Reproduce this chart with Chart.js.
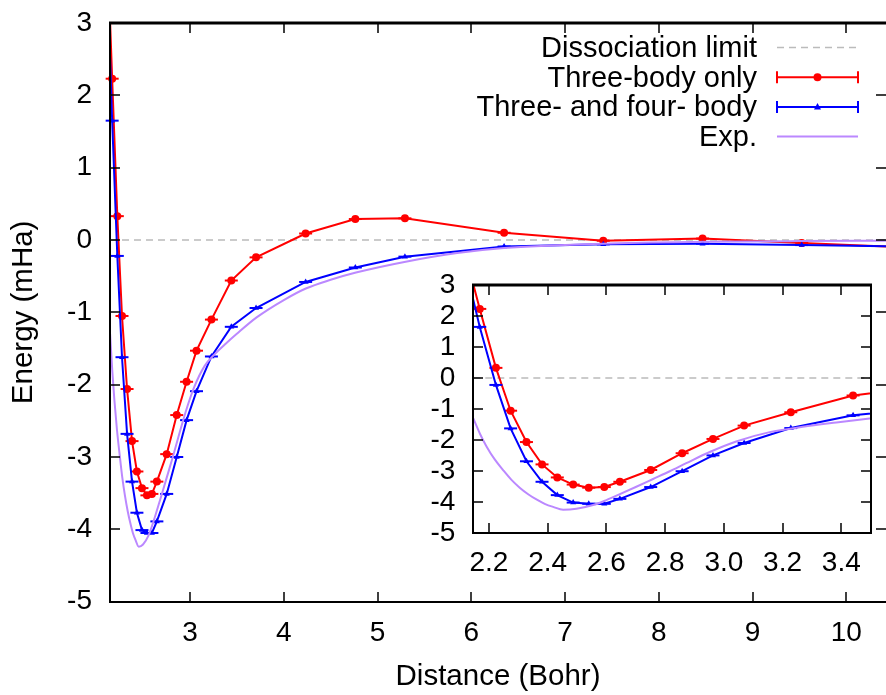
<!DOCTYPE html>
<html>
<head>
<meta charset="utf-8">
<script src="https://cdn.jsdelivr.net/npm/chart.js@4.4.1/dist/chart.umd.min.js"></script>
<style>
  html, body { margin: 0; padding: 0; background: #fff; overflow: hidden; }
  #wrap { position: relative; width: 886px; height: 695px; }
  #mainChart { position: absolute; left: 0; top: 0; }
  #insetChart { position: absolute; left: 400px; top: 260px; }
</style>
</head>
<body>
<div id="wrap">
  <canvas id="mainChart" width="886" height="695"></canvas>
  <canvas id="insetChart" width="486" height="330"></canvas>
</div>
<script>
// distances (Bohr) of the computed points
const distance = [2.117, 2.169, 2.224, 2.274, 2.328, 2.381, 2.433, 2.487, 2.540, 2.593, 2.646,
  2.751, 2.858, 2.963, 3.069, 3.228, 3.440, 3.704, 4.233, 4.763, 5.292, 6.350, 7.408, 8.467, 9.525, 10.58];
// energies (mHa)
const threeBody = [4.1, 2.23, 0.33, -1.05, -2.06, -2.78, -3.20, -3.43, -3.53, -3.51, -3.34,
  -2.96, -2.42, -1.96, -1.53, -1.10, -0.56, -0.24, 0.09, 0.29, 0.30, 0.10, -0.01, 0.02, -0.04, -0.10];
const threeFourBody = [3.7, 1.65, -0.22, -1.62, -2.68, -3.34, -3.77, -4.01, -4.05, -4.05, -3.89,
  -3.51, -3.00, -2.49, -2.09, -1.61, -1.20, -0.94, -0.58, -0.38, -0.23, -0.09, -0.06, -0.05, -0.07, -0.09];

// experimental curve
const expDistance = [2.147, 2.170, 2.192, 2.220, 2.249, 2.277, 2.305, 2.335, 2.362, 2.390, 2.419,
  2.453, 2.498, 2.555, 2.600, 2.646, 2.702, 2.759, 2.816, 2.872, 2.952, 3.042, 3.156, 3.269,
  3.383, 3.496, 3.71, 4.00, 4.235, 4.50, 4.77, 5.30, 5.85, 6.35, 7.4, 8.5, 9.5, 10.45];
const expEnergy = [-1.30, -1.80, -2.20, -2.62, -2.97, -3.28, -3.53, -3.75, -3.91, -4.05, -4.15,
  -4.24, -4.21, -4.09, -3.93, -3.74, -3.50, -3.25, -3.00, -2.74, -2.38, -2.04, -1.74, -1.57,
  -1.43, -1.30, -1.07, -0.83, -0.67, -0.55, -0.45, -0.30, -0.18, -0.11, -0.05, -0.025, -0.015, -0.01];

const dissociationLimit = 0;
const seriesLabels = ["Dissociation limit", "Three-body only", "Three- and four- body", "Exp."];

const mainXTicks = [3, 4, 5, 6, 7, 8, 9, 10];
const insetXTicks = [2.2, 2.4, 2.6, 2.8, 3.0, 3.2, 3.4];
const yTicks = [-5, -4, -3, -2, -1, 0, 1, 2, 3];
const yMin = -5, yMax = 3;

const RED = "#ff0000";
const BLUE = "#0000ff";
const PURPLE = "#bb88ff";
const GREY = "#bbbbbb";
const FONT = "'Liberation Sans', Arial, Helvetica, sans-serif";

Chart.defaults.font.family = FONT;
Chart.defaults.color = "#000";

function toPoints(xs, ys) {
  return xs.map((x, i) => ({ x: x, y: ys[i] }));
}

// frame with inward ticks, like the gnuplot border
function drawFrame(chart, xTicks, rightBorder) {
  const { ctx, chartArea: a, scales: { x, y } } = chart;
  const L = Math.round(a.left), T = Math.round(a.top);
  const R = Math.round(a.right), B = Math.round(a.bottom);
  ctx.save();
  ctx.fillStyle = "#000";
  xTicks.forEach(v => {
    const px = Math.round(x.getPixelForValue(v));
    ctx.fillRect(px - 0.75, B - 10, 1.5, 10);
    ctx.fillRect(px - 0.75, T, 1.5, 10);
  });
  yTicks.forEach(v => {
    const py = Math.round(y.getPixelForValue(v));
    ctx.fillRect(L, py - 0.75, 10, 1.5);
    ctx.fillRect(R - 10, py - 0.75, 10, 1.5);
  });
  ctx.fillRect(L - 1, T - 1.5, R - L + 2, 3);
  ctx.fillRect(L - 1, B - 1, R - L + 2, 2);
  ctx.fillRect(L - 1, T - 1, 2, B - T + 2);
  if (rightBorder) ctx.fillRect(R - 1, T - 1, 2, B - T + 2);
  ctx.restore();
}

const framePlugin = {
  id: "frame",
  afterDraw(chart, args, opts) {
    drawFrame(chart, opts.xTicks, opts.rightBorder);
  }
};

// key in the top right corner of the main plot
const keyPlugin = {
  id: "key",
  afterDraw(chart, args, opts) {
    if (!opts.show) return;
    const ctx = chart.ctx;
    const textRight = 757, x0 = 777, x1 = 858, xm = (x0 + x1) / 2;
    const firstRow = 47.5, rowStep = 29.7;
    ctx.save();
    ctx.font = "29px " + FONT;
    ctx.textAlign = "right";
    ctx.textBaseline = "alphabetic";
    seriesLabels.forEach((label, i) => {
      const ym = firstRow + i * rowStep;
      ctx.fillStyle = "#000";
      ctx.fillText(label, textRight, ym + 9.5);
      ctx.beginPath();
      ctx.lineWidth = 2;
      if (i === 0) {
        ctx.strokeStyle = GREY;
        ctx.lineWidth = 1.5;
        ctx.setLineDash([7, 5]);
        ctx.moveTo(x0, ym); ctx.lineTo(x1, ym);
        ctx.stroke();
        ctx.setLineDash([]);
      } else if (i === 3) {
        ctx.strokeStyle = PURPLE;
        ctx.moveTo(x0, ym); ctx.lineTo(x1, ym);
        ctx.stroke();
      } else {
        const c = i === 1 ? RED : BLUE;
        ctx.strokeStyle = c;
        ctx.fillStyle = c;
        ctx.moveTo(x0, ym); ctx.lineTo(x1, ym);
        ctx.moveTo(x0, ym - 6); ctx.lineTo(x0, ym + 6);
        ctx.moveTo(x1, ym - 6); ctx.lineTo(x1, ym + 6);
        ctx.stroke();
        ctx.beginPath();
        if (i === 1) {
          ctx.arc(xm, ym, 4, 0, Math.PI * 2);
        } else {
          ctx.moveTo(xm, ym - 4); ctx.lineTo(xm + 3.5, ym + 2.5); ctx.lineTo(xm - 3.5, ym + 2.5);
          ctx.closePath();
        }
        ctx.fill();
      }
    });
    ctx.restore();
  }
};

function buildDatasets(xMin, xMax) {
  const inside = p => p.x >= xMin && p.x <= xMax && p.y >= yMin && p.y <= yMax;
  const red = toPoints(distance, threeBody);
  const blue = toPoints(distance, threeFourBody);
  const lineDs = (data, color, order) => ({
    data: data, showLine: true, borderColor: color, borderWidth: 2,
    pointRadius: 0, tension: 0, order: order
  });
  const markDs = (data, color, style, radius, order) => ({
    data: data.filter(inside), showLine: false, clip: false, order: order,
    pointStyle: style, pointRadius: radius, pointBorderColor: color,
    pointBackgroundColor: color, pointBorderWidth: style === "line" ? 2 : 0
  });
  return [
    {
      data: [{ x: xMin, y: dissociationLimit }, { x: xMax, y: dissociationLimit }],
      showLine: true, borderColor: GREY, borderWidth: 1.5, borderDash: [7, 5],
      pointRadius: 0, order: 9
    },
    lineDs(red, RED, 8),
    markDs(red, RED, "line", 6.5, 7),
    markDs(red, RED, "circle", 4, 6),
    lineDs(blue, BLUE, 5),
    markDs(blue, BLUE, "line", 6.5, 4),
    markDs(blue, BLUE, "triangle", 3.5, 3),
    {
      data: toPoints(expDistance, expEnergy), showLine: true, borderColor: PURPLE,
      borderWidth: 2, pointRadius: 0, cubicInterpolationMode: "monotone", order: 1
    }
  ];
}

function makeChart(id, o) {
  return new Chart(document.getElementById(id), {
    type: "scatter",
    data: { datasets: buildDatasets(o.xMin, o.xMax) },
    options: {
      responsive: false,
      animation: false,
      devicePixelRatio: 1,
      events: [],
      layout: { padding: o.padding, autoPadding: false },
      plugins: {
        legend: { display: false },
        tooltip: { enabled: false },
        frame: { xTicks: o.xTicks, rightBorder: o.rightBorder },
        key: { show: o.showKey }
      },
      scales: {
        x: {
          type: "linear", min: o.xMin, max: o.xMax,
          afterBuildTicks: s => { s.ticks = o.xTicks.map(v => ({ value: v })); },
          grid: { display: false, drawTicks: false },
          border: { display: false },
          ticks: {
            padding: o.xPad, font: { size: 28 }, color: "#000",
            autoSkip: false, maxRotation: 0, callback: o.xFmt
          },
          title: {
            display: !!o.xTitle, text: o.xTitle || "", color: "#000",
            font: { size: 29.5 }, padding: { top: 0, bottom: 0.3 }
          },
          afterFit: s => {
            s.height = o.xHeight;
            s.paddingLeft = 0; s.paddingRight = 0;
          }
        },
        y: {
          type: "linear", min: yMin, max: yMax,
          afterBuildTicks: s => { s.ticks = yTicks.map(v => ({ value: v })); },
          grid: { display: false, drawTicks: false },
          border: { display: false },
          ticks: {
            padding: 18, font: { size: 28 }, color: "#000",
            autoSkip: false, callback: v => String(v)
          },
          title: {
            display: !!o.yTitle, text: o.yTitle || "", color: "#000",
            font: { size: 29.5 }, padding: { top: 6.6, bottom: 0 }
          },
          afterFit: s => {
            s.width = o.yWidth;
            s.paddingTop = 0; s.paddingBottom = 0;
          }
        }
      }
    },
    plugins: [framePlugin, keyPlugin]
  });
}

makeChart("mainChart", {
  xMin: 2.146, xMax: 10.424, xTicks: mainXTicks,
  xFmt: v => String(v),
  padding: { left: 0, top: 23, right: 0, bottom: 0 },
  xHeight: 93.3, yWidth: 110, xPad: 14.5,
  xTitle: "Distance (Bohr)", yTitle: "Energy (mHa)",
  rightBorder: false, showKey: true
});

makeChart("insetChart", {
  xMin: 2.147, xMax: 3.5, xTicks: insetXTicks,
  xFmt: v => Number(v).toFixed(1),
  padding: { left: 0, top: 25, right: 15.3, bottom: 0 },
  xHeight: 56.7, yWidth: 73.3, xPad: 12.9,
  rightBorder: true, showKey: false
});
</script>
</body>
</html>
